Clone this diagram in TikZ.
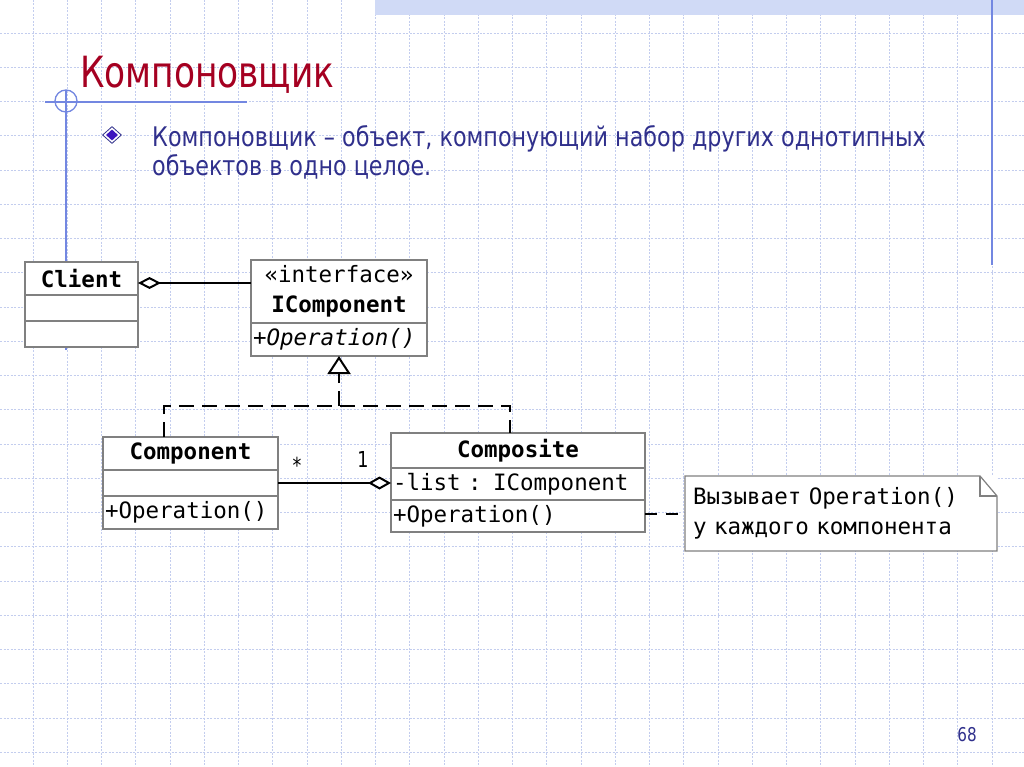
\documentclass[tikz,border=0pt]{standalone}
\usepackage{fontspec}
\setmainfont{DejaVu Sans}
\newfontfamily\slidefont[FakeStretch=0.8]{DejaVu Sans}
\newfontfamily\bodyfont[FakeStretch=0.825]{DejaVu Sans}
\newfontfamily\umlfont{DejaVu Sans Mono}
\usetikzlibrary{positioning,arrows.meta,shapes.geometric}

\definecolor{titlered}{RGB}{165,0,33}
\definecolor{bodyblue}{RGB}{48,48,140}
\definecolor{decoblue}{RGB}{115,135,225}
\definecolor{gridblue}{RGB}{195,205,238}
\definecolor{bandblue}{RGB}{208,218,246}
\definecolor{boxgray}{RGB}{128,128,128}
\definecolor{bulletblue}{RGB}{60,20,190}

\tikzset{
  gridline/.style={gridblue, line width=0.8pt, dash pattern=on 2pt off 1.5pt},
  decoline/.style={decoblue, line width=1.3pt},
  classpart/.style={draw=boxgray, line width=1.2pt, fill=white, inner sep=0pt, outer sep=0pt,
    font=\umlfont\fontsize{22.5pt}{30pt}\selectfont},
  assoc/.style={black, line width=2pt},
  realize/.style={black, line width=2pt, dash pattern=on 15pt off 8pt},
  mult/.style={font=\slidefont\fontsize{22pt}{26pt}\selectfont, inner sep=0pt},
}

\begin{document}
\begin{tikzpicture}[x=1pt, y=-1pt]
  \useasboundingbox (0,0) rectangle (1024,767);
  % squared paper
  \fill[white] (0,0) rectangle (1024,767);
  \foreach \k in {-1,...,28}
    \draw[gridline] ({33+34.25*\k},0) -- ({33+34.25*\k},767);
  \foreach \k in {-1,...,21}
    \draw[gridline] (0,{33+34.25*\k}) -- (1024,{33+34.25*\k});
  \fill[bandblue] (375,0) rectangle (1024,15);
  \draw[decoline] (992,0) -- (992,265);
  \draw[decoline] (45,102) -- (247,102);
  \draw[decoline] (66,90) -- (66,350);
  \draw[decoline] (66,101) circle (11pt);

  % Title and bullet
  \node[anchor=base west, inner sep=0pt, text=titlered, font=\slidefont\fontsize{43pt}{50pt}\selectfont] (title) at (80,88) {Компоновщик};
  \node[diamond, draw=bodyblue, line width=0.8pt, fill=white, minimum width=19pt, minimum height=17pt, inner sep=0pt] (bulletOut) at (112,135) {};
  \node[diamond, fill=bulletblue, minimum width=12pt, minimum height=11pt, inner sep=0pt] (bulletIn) at (bulletOut) {};
  \node[anchor=base west, inner sep=0pt, text=bodyblue, font=\bodyfont\fontsize{27pt}{30pt}\selectfont] (bodyA) at (152,147) {Компоновщик – объект, компонующий набор других однотипных};
  \node[anchor=base west, inner sep=0pt, text=bodyblue, font=\bodyfont\fontsize{27pt}{30pt}\selectfont] (bodyB) at ([yshift=-29pt]bodyA.base west) {объектов в одно целое.};

  % Define nodes
  \node[classpart, minimum width=113pt, minimum height=33pt, anchor=north west] (clientHead) at (25,262) {\bfseries Client};
  \node[classpart, minimum width=113pt, minimum height=26pt, below=0pt of clientHead] (clientAttr) {};
  \node[classpart, minimum width=113pt, minimum height=26pt, below=0pt of clientAttr] (clientOps) {};

  \node[classpart, minimum width=176pt, minimum height=63pt, anchor=north west, align=center] (icompHead) at (251,260) {«interface»\\{\bfseries IComponent}};
  \node[classpart, minimum width=176pt, minimum height=33pt, text width=172pt, align=left, below=0pt of icompHead] (icompOps) {\itshape +Operation()};

  \node[classpart, minimum width=175pt, minimum height=33pt, anchor=north west] (compHead) at (103,437) {\bfseries Component};
  \node[classpart, minimum width=175pt, minimum height=26pt, below=0pt of compHead] (compAttr) {};
  \node[classpart, minimum width=175pt, minimum height=33pt, text width=171pt, align=left, below=0pt of compAttr] (compOps) {+Operation()};

  \node[classpart, minimum width=254pt, minimum height=35pt, anchor=north west] (compositeHead) at (391,433) {\bfseries Composite};
  \node[classpart, minimum width=254pt, minimum height=32pt, text width=250pt, align=left, below=0pt of compositeHead] (compositeAttr) {-list : IComponent};
  \node[classpart, minimum width=254pt, minimum height=32pt, text width=250pt, align=left, below=0pt of compositeAttr] (compositeOps) {+Operation()};

  % note
  \node[classpart, draw=none, minimum width=312pt, minimum height=75pt, text width=296pt, align=left, anchor=north west] (note) at (685,476) {Вызывает Operation()\\у каждого компонента};
  \draw[boxgray, line width=1.2pt] (note.north west) -- ([xshift=-17pt]note.north east) -- ([yshift=-20pt]note.north east) -- (note.south east) -- (note.south west) -- cycle;
  \draw[boxgray, line width=1.2pt] ([xshift=-17pt]note.north east) -- ([xshift=-17pt, yshift=-20pt]note.north east) -- ([yshift=-20pt]note.north east);

  % multiplicities
  \node[mult] (manyLabel) at ([xshift=19pt, yshift=18pt]compAttr.east) {*};
  \node[mult] (oneLabel) at ([xshift=-28pt, yshift=25pt]compositeAttr.west) {1};

  % connect client to interface
  \draw[assoc, {Diamond[fill=white, length=23pt, width=12pt]}-] ([yshift=-4.5pt]clientHead.east) -- ([yshift=-4.5pt]clientHead.east -| icompHead.west);
  % connect component to composite
  \draw[assoc, -{Diamond[fill=white, length=23pt, width=13pt]}] (compAttr.east) -- (compAttr.east -| compositeAttr.west);
  % realizations of the interface
  \coordinate (split) at ([yshift=-50pt]icompOps.south);
  \draw[realize] ([xshift=-26.5pt]compHead.north) |- (split) -| ([xshift=-8pt]compositeHead.north);
  \draw[realize, -{Triangle[fill=white, length=18pt, width=23pt]}] (split) -- (icompOps.south);
  % attach the note
  \draw[realize, dash pattern=on 12pt off 9pt] (note.west -| compositeOps.east) -- (note.west);

  \node[inner sep=0pt, text=bodyblue, font=\slidefont\fontsize{19pt}{20pt}\selectfont] (pageNum) at (967,735) {68};
\end{tikzpicture}
\end{document}
